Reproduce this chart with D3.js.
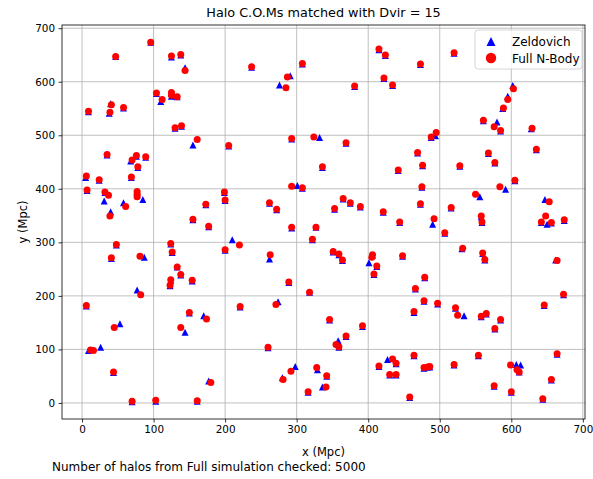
<!DOCTYPE html>
<html>
<head>
<meta charset="utf-8">
<script src="https://cdn.jsdelivr.net/npm/d3@7"></script>
<style>
  body { margin: 0; background: #fff; }
  text { font-family: "DejaVu Sans", sans-serif; fill: #000; }
</style>
</head>
<body>
<script>
// halo centres of mass, same index = matched pair
var zeldovich = [
  [96,674],[47,647],[125,646],[138,650],[144,626],[104,578],[125,579],[125,573],[133,572],[110,563],
  [40,559],[58,551],[9,544],[38,541],[130,513],[139,517],[155,482],[35,463],[76,461],[89,459],
  [68,452],[78,440],[5,421],[24,416],[69,421],[7,397],[32,393],[31,377],[77,394],[77,389],
  [85,380],[58,374],[40,357],[173,370],[155,342],[177,329],[48,295],[124,297],[126,281],[41,270],
  [87,272],[133,254],[138,239],[154,228],[124,229],[123,219],[77,211],[6,181],[53,148],[150,168],
  [144,132],[170,163],[9,98],[26,104],[44,57],[70,2],[103,3],[161,3],[177,41],[237,627],
  [308,633],[291,611],[276,594],[381,591],[415,660],[424,649],[422,606],[434,593],[473,632],[520,653],
  [602,593],[595,573],[588,550],[561,527],[580,525],[585,508],[628,512],[494,499],[488,496],[205,480],
  [293,493],[332,496],[369,485],[336,440],[301,406],[308,401],[199,393],[200,378],[262,373],[272,361],
  [365,381],[375,373],[353,362],[389,366],[421,356],[293,327],[327,328],[322,305],[210,305],[200,285],
  [262,269],[351,282],[359,277],[364,266],[406,276],[401,262],[412,255],[408,240],[289,225],[318,207],
  [221,179],[274,189],[346,155],[392,143],[369,124],[358,116],[359,104],[260,103],[298,68],[280,47],
  [329,62],[342,50],[336,30],[316,20],[415,68],[427,81],[439,73],[469,467],[568,466],[577,448],
  [635,473],[476,443],[442,434],[528,442],[605,415],[592,399],[475,403],[556,385],[647,380],[473,371],
  [444,337],[490,334],[516,364],[558,348],[559,337],[650,334],[642,337],[656,336],[507,317],[531,288],
  [560,279],[563,267],[448,274],[479,234],[466,213],[662,267],[674,341],[478,190],[497,185],[464,169],
  [522,177],[534,163],[558,161],[565,166],[585,155],[577,138],[646,182],[673,202],[464,88],[554,88],
  [520,71],[478,65],[483,67],[486,67],[430,52],[439,52],[607,72],[613,71],[611,58],[458,10],
  [576,31],[600,20],[644,7],[656,43],[664,91]
];

var fullNBody = [
  [96,674],[47,647],[125,648],[138,651],[144,621],[104,579],[125,580],[125,575],[133,572],[112,567],
  [41,557],[58,552],[9,545],[39,543],[130,514],[139,518],[161,492],[35,464],[76,462],[89,460],
  [70,454],[78,441],[6,424],[24,417],[69,422],[7,398],[32,394],[37,388],[77,395],[77,390],
  [77,385],[61,367],[39,349],[173,371],[155,343],[177,330],[48,296],[124,298],[126,282],[41,271],
  [81,274],[133,254],[138,240],[154,229],[124,230],[123,220],[82,202],[6,182],[45,141],[150,169],
  [138,141],[174,157],[12,99],[16,98],[44,58],[70,3],[103,5],[161,4],[180,38],[237,628],
  [308,634],[287,609],[285,589],[381,592],[415,661],[424,650],[422,607],[434,594],[473,633],[520,654],
  [603,587],[595,567],[589,551],[561,528],[576,516],[585,509],[629,513],[495,505],[488,497],[205,481],
  [293,494],[324,497],[369,486],[336,441],[293,405],[308,402],[199,394],[200,379],[262,374],[272,362],
  [365,382],[375,374],[353,363],[389,367],[421,357],[293,328],[327,328],[322,306],[220,295],[200,286],
  [263,277],[351,283],[359,278],[364,267],[406,277],[405,272],[412,256],[408,241],[289,226],[318,207],
  [221,180],[271,184],[346,156],[392,144],[369,125],[355,109],[359,105],[260,104],[292,59],[281,44],
  [328,66],[342,51],[341,30],[316,21],[415,69],[434,82],[439,74],[469,468],[568,467],[577,449],
  [635,474],[476,444],[442,435],[528,443],[605,416],[584,404],[475,404],[550,390],[653,376],[473,372],
  [444,338],[492,344],[516,365],[558,349],[559,338],[648,349],[642,338],[656,337],[507,318],[532,289],
  [560,280],[563,268],[448,275],[479,235],[466,214],[664,266],[674,342],[478,191],[497,186],[464,171],
  [522,178],[525,164],[558,162],[565,167],[585,156],[577,139],[646,183],[673,203],[464,89],[554,89],
  [520,72],[478,66],[483,67],[486,68],[430,53],[439,53],[599,71],[608,62],[611,58],[458,11],
  [576,32],[600,21],[644,8],[656,44],[664,92]
];

var xTicks = [0, 100, 200, 300, 400, 500, 600, 700];
var yTicks = [0, 100, 200, 300, 400, 500, 600, 700];
var seriesNames = ["Zeldovich", "Full N-Body"];
var dvir = 15;
var nChecked = 5000;

var width = 593, height = 479;
var mLeft = 62, mRight = 585, mTop = 25, mBottom = 419;

var svg = d3.select("body").append("svg")
   .attr("width", width)
   .attr("height", height);

var x = d3.scaleLinear().domain([-28, 703]).range([mLeft, mRight]);
var y = d3.scaleLinear().domain([-30, 706]).range([mBottom, mTop]);

// grid
svg.append("g").selectAll("line")
  .data(xTicks).enter().append("line")
  .attr("x1", function(d) { return x(d) }).attr("x2", function(d) { return x(d) })
  .attr("y1", mTop).attr("y2", mBottom)
  .style("stroke", "#b0b0b0").style("stroke-width", 0.8);
svg.append("g").selectAll("line")
  .data(yTicks).enter().append("line")
  .attr("y1", function(d) { return y(d) }).attr("y2", function(d) { return y(d) })
  .attr("x1", mLeft).attr("x2", mRight)
  .style("stroke", "#b0b0b0").style("stroke-width", 0.8);

var tri = function(r) {
  return "M0," + (-r) + "L" + r + "," + r + "L" + (-r) + "," + r + "Z";
};

svg.append("g").selectAll("path")
  .data(zeldovich).enter().append("path")
  .attr("d", tri(3.5))
  .attr("transform", function(d) { return "translate(" + x(d[0]) + "," + y(d[1]) + ")" })
  .style("fill", "blue");

svg.append("g").selectAll("circle")
  .data(fullNBody).enter().append("circle")
  .attr("cx", function(d) { return x(d[0]) })
  .attr("cy", function(d) { return y(d[1]) })
  .attr("r", 3.5)
  .style("fill", "red");

// axes
var xAxis = svg.append("g")
  .attr("transform", "translate(0," + mBottom + ")")
  .call(d3.axisBottom(x).tickValues(xTicks).tickSize(3.5).tickPadding(3.5));
var yAxis = svg.append("g")
  .attr("transform", "translate(" + mLeft + ",0)")
  .call(d3.axisLeft(y).tickValues(yTicks).tickSize(3.5).tickPadding(3.5));
[xAxis, yAxis].forEach(function(a) {
  a.select(".domain").remove();
  a.selectAll("text").style("font-size", "10.4px").style("font-family", "DejaVu Sans");
  a.selectAll("line").style("stroke-width", 0.8);
});

svg.append("rect")
  .attr("x", mLeft).attr("y", mTop)
  .attr("width", mRight - mLeft).attr("height", mBottom - mTop)
  .style("fill", "none").style("stroke", "#000").style("stroke-width", 0.8);

svg.append("text")
  .attr("x", (mLeft + mRight) / 2).attr("y", 17)
  .attr("text-anchor", "middle").style("font-size", "12.8px")
  .text("Halo C.O.Ms matched with Dvir = " + dvir);

svg.append("text")
  .attr("x", (mLeft + mRight) / 2).attr("y", 456)
  .attr("text-anchor", "middle").style("font-size", "11.5px")
  .text("x (Mpc)");

svg.append("text")
  .attr("transform", "translate(27," + (mTop + mBottom) / 2 + ") rotate(-90)")
  .attr("text-anchor", "middle").style("font-size", "11.5px")
  .text("y (Mpc)");

svg.append("text")
  .attr("x", 52).attr("y", 471)
  .style("font-size", "12px")
  .text("Number of halos from Full simulation checked: " + nChecked);

// legend
var lg = svg.append("g").attr("transform", "translate(475,30)");
lg.append("rect")
  .attr("width", 107).attr("height", 39).attr("rx", 3)
  .style("fill", "#fff").style("fill-opacity", 0.8)
  .style("stroke", "#cccccc").style("stroke-width", 0.8);
lg.append("path").attr("d", tri(4.5)).attr("transform", "translate(16,11.5)").style("fill", "blue");
lg.append("circle").attr("cx", 16).attr("cy", 28).attr("r", 5.2).style("fill", "red");
lg.selectAll("text").data(seriesNames).enter().append("text")
  .attr("x", 37).attr("y", function(d, i) { return 16 + i * 16.5 })
  .style("font-size", "12px")
  .text(function(d) { return d });
</script>
</body>
</html>
